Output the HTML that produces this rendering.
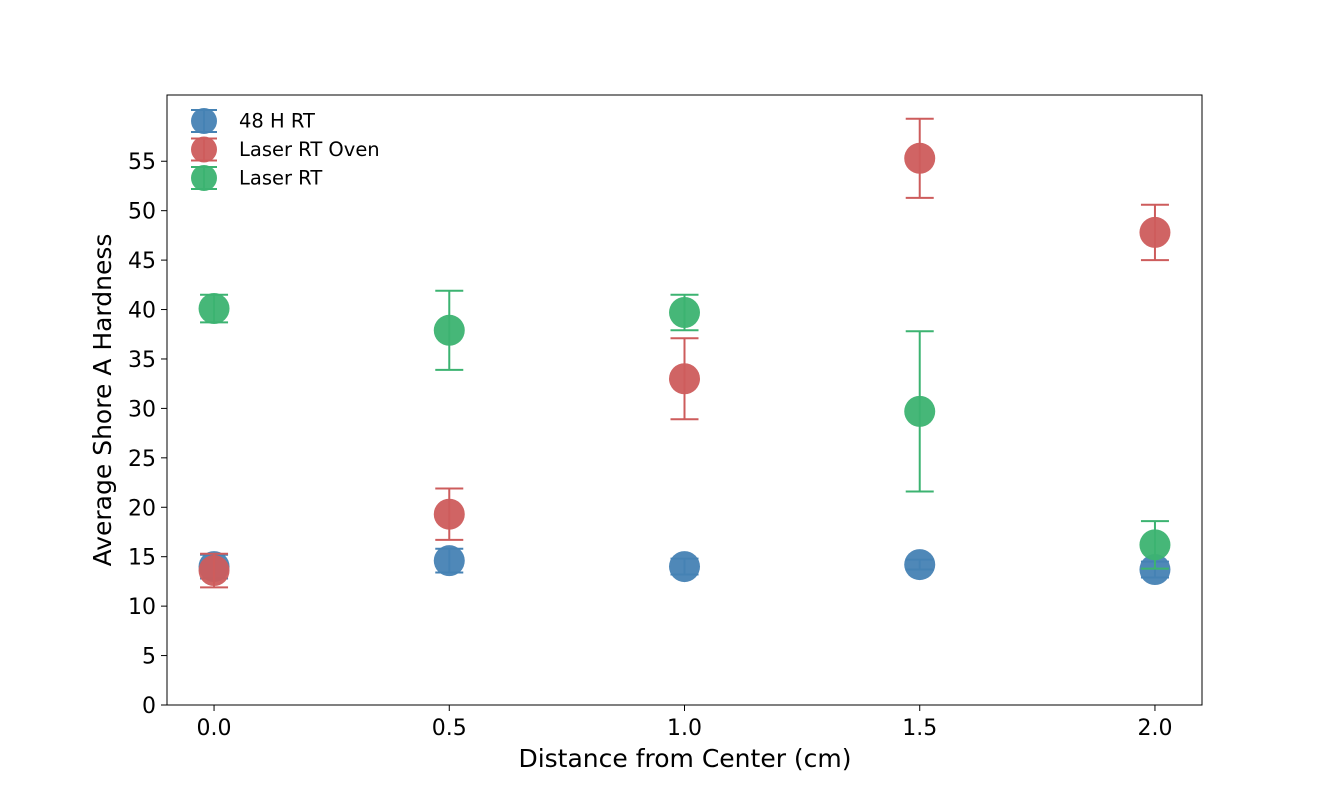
<!DOCTYPE html>
<html><head><meta charset="utf-8"><style>
body{margin:0;background:#fff;}
svg{display:block;font-family:"DejaVu Sans","Liberation Sans",sans-serif;}
</style></head><body>
<svg id="chart" width="1335" height="792"></svg>
<script>
const categories=[0.0,0.5,1.0,1.5,2.0];
const seriesNames=["48 H RT","Laser RT Oven","Laser RT"];
const seriesColors=["#4682b4","#cd5c5c","#3cb371"];
const rtMeans=[14.0,14.6,14.0,14.2,13.7];
const rtErrs=[1.2,1.2,0.8,0.5,0.8];
const ovenMeans=[13.6,19.3,33.0,55.3,47.8];
const ovenErrs=[1.7,2.6,4.1,4.0,2.8];
const laserMeans=[40.1,37.9,39.7,29.7,16.2];
const laserErrs=[1.4,4.0,1.8,8.1,2.4];
const yTicks=[0,5,10,15,20,25,30,35,40,45,50,55];
const xTicks=["0.0","0.5","1.0","1.5","2.0"];

const L=167,R=1202,T=95,B=705,X0=-0.1,X1=2.1,Y0=0,Y1=61.7;
const sx=v=>L+(v-X0)/(X1-X0)*(R-L);
const sy=v=>B-(v-Y0)/(Y1-Y0)*(B-T);
const svg=document.getElementById('chart');
const NS="http://www.w3.org/2000/svg";
function mk(tag,attrs,parent){const e=document.createElementNS(NS,tag);for(const k in attrs)e.setAttribute(k,attrs[k]);(parent||svg).appendChild(e);return e;}

let frame=mk('rect',{x:L,y:T,width:R-L,height:B-T,fill:'none',stroke:'#000','stroke-width':1});



yTicks.forEach(v=>{
  let t=mk('line',{x1:L-6,x2:L,y1:sy(v),y2:sy(v),stroke:'#000'});
  
  
  let tx=mk('text',{x:L-11,y:sy(v)+8,'text-anchor':'end','font-size':22});
  tx.textContent=v;
  
  
});
xTicks.forEach(s=>{
  const v=parseFloat(s);
  let t=mk('line',{x1:sx(v),x2:sx(v),y1:B,y2:B+6,stroke:'#000'});
  
  
  let tx=mk('text',{x:sx(v),y:B+30,'text-anchor':'middle','font-size':22});
  tx.textContent=s;
  
  
});
let xt=mk('text',{x:(L+R)/2+0.5,y:767,'text-anchor':'middle','font-size':25});
xt.textContent="Distance from Center (cm)";


let yt=mk('text',{x:0,y:0,'text-anchor':'middle','font-size':25,transform:`translate(111,${(T+B)/2}) rotate(-90)`});
yt.textContent="Average Shore A Hardness";



const allMeans=[rtMeans,ovenMeans,laserMeans];
const allErrs=[rtErrs,ovenErrs,laserErrs];
allMeans.forEach((means,si)=>{
  const c=seriesColors[si];
  const g=mk('g',{});
  
  
  means.forEach((m,i)=>{
    const x=sx(categories[i]),e=allErrs[si][i];
    const yl=sy(m-e),yh=sy(m+e);
    let eb=mk('path',{d:`M${x},${yl}V${yh}M${x-14},${yl}H${x+14}M${x-14},${yh}H${x+14}`,stroke:c,'stroke-width':2,fill:'none'},g);
    
    
    let p=mk('circle',{cx:x,cy:sy(m),r:15.5,fill:c,'fill-opacity':0.95},g);
    
    
  });
});

seriesNames.forEach((n,i)=>{
  const y=121+i*28.5,c=seriesColors[i];
  const g=mk('g',{});
  
  
  mk('path',{d:`M204,${y-11}V${y+11}M191,${y-11}H217M191,${y+11}H217`,stroke:c,'stroke-width':2},g);
  mk('circle',{cx:204,cy:y,r:13,fill:c,'fill-opacity':0.95},g);
  let t=mk('text',{x:239,y:y+6.5,'font-size':19.5},g);
  t.textContent=n;
});
</script>
</body></html>
